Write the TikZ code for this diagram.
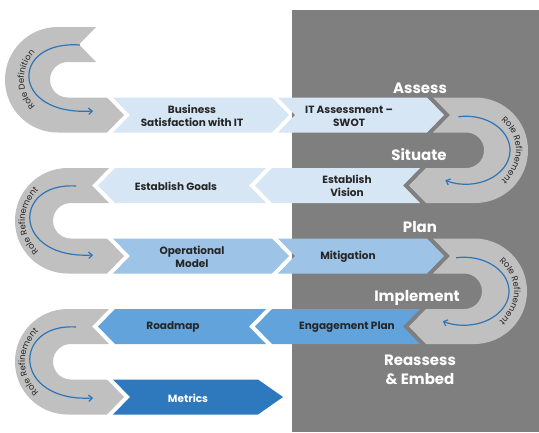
\documentclass[tikz,border=0pt]{standalone}
\usepackage{fontspec}
\setmainfont{Poppins}
\usetikzlibrary{arrows.meta,decorations.text}

\definecolor{bgdark}{HTML}{7F7F7F}
\definecolor{loopgray}{HTML}{C0C0C0}
\definecolor{paleblue}{HTML}{D6E6F5}
\definecolor{lightblue}{HTML}{9DC3E6}
\definecolor{midblue}{HTML}{62A3DC}
\definecolor{deepblue}{HTML}{2E78BD}
\definecolor{arrowblue}{HTML}{2E75B6}
\definecolor{labeltext}{HTML}{262626}

\newcommand{\rolefont}{\fontsize{8.5}{10}\selectfont}

% right-pointing chevron: left x, shoulder x, top y, tip depth, fill
\newcommand{\chevR}[5]{%
  \fill[#5] (#1,#3) -- (#2,#3) -- ({#2+#4},{#3+17.5}) -- (#2,{#3+35})
    -- (#1,{#3+35}) -- ({#1+17},{#3+17.5}) -- cycle;}
% left-pointing chevron: right x, shoulder x, top y, fill
\newcommand{\chevL}[4]{%
  \fill[#4] (#1,#3) -- (#2,#3) -- ({#2-17},{#3+17.5}) -- (#2,{#3+35})
    -- (#1,{#3+35}) -- ({#1-17},{#3+17.5}) -- cycle;}
% C-shaped turn (opens right): outer cx, inner cx, upper arm top, lower arm top,
% notch corner x of upper arm, tip shoulder x of lower arm
\newcommand{\cturn}[6]{%
  \fill[loopgray] (#5,#3) -- (#1,#3)
    arc[start angle=-90, end angle=-270, radius={(#4+35-#3)/2}]
    -- (#6,{#4+35}) -- ({#6+17},{#4+17.5}) -- (#6,#4) -- (#2,#4)
    arc[start angle=90, end angle=270, radius={(#4-#3-35)/2}]
    -- (#5,{#3+35}) -- ({#5-17},{#3+17.5}) -- cycle;}
% U-shaped turn (opens left)
\newcommand{\uturn}[6]{%
  \fill[loopgray] (#5,#3) -- (#1,#3)
    arc[start angle=-90, end angle=90, radius={(#4+35-#3)/2}]
    -- (#6,{#4+35}) -- ({#6-17},{#4+17.5}) -- (#6,#4) -- (#2,#4)
    arc[start angle=90, end angle=-90, radius={(#4-#3-35)/2}]
    -- (#5,{#3+35}) -- ({#5+17},{#3+17.5}) -- cycle;}

\begin{document}
\begin{tikzpicture}[x=1pt,y=-1pt,
  lbl/.style={font=\bfseries\fontsize{10.5}{13}\selectfont, text=labeltext, align=center, inner sep=0pt},
  heading/.style={font=\bfseries\fontsize{15}{19}\selectfont, text=white, align=center, inner sep=0pt},
  roleArrow/.style={draw=arrowblue, line width=1.2pt, -{Straight Barb[length=3.5pt,width=6.5pt]}},
  roletext/.style={decorate, decoration={text along path, text align=center,
      text color=labeltext, text={|\rolefont|#1}}}]

\fill[white] (0,0) rectangle (539,432);
\useasboundingbox (0,0) rectangle (539,432);

% shaded phase panel
\fill[bgdark] (292,10) rectangle (539,432);

% turns
\cturn{57.75}{67.75}{27}{97.5}{96}{107}
\cturn{67.75}{70.75}{168}{238.5}{109}{107}
\cturn{67.75}{70.75}{309}{379.5}{109}{107}
\uturn{475.25}{466.25}{97.5}{168}{433}{426}
\uturn{474.25}{464.25}{238.5}{309}{433}{426}

% chevrons
\chevR{113}{272}{97.5}{17}{paleblue}
\chevR{278}{427}{97.5}{17}{paleblue}
\chevL{420}{272}{168}{paleblue}
\chevL{266}{115}{168}{paleblue}
\chevR{113}{272}{238.5}{17}{lightblue}
\chevR{278}{427}{238.5}{17}{lightblue}
\chevL{420}{272}{309}{midblue}
\chevL{266}{115}{309}{midblue}
\chevR{113}{258}{379.5}{25}{deepblue}

% step labels
\node[lbl] (bizsat) at (192,116) {Business\\Satisfaction with IT};
\node[lbl] (itswot) at (349,116) {IT Assessment –\\SWOT};
\node[lbl] (vision) at (347,186) {Establish\\Vision};
\node[lbl] (goals) at (176,186) {Establish Goals};
\node[lbl] (opmodel) at (192,257) {Operational\\Model};
\node[lbl] (mitig) at (348,257) {Mitigation};
\node[lbl] (engage) at (347,327) {Engagement Plan};
\node[lbl] (roadmap) at (173,327) {Roadmap};
\node[lbl, text=white] (metrics) at (188,398) {Metrics};

% phase headings
\node[heading] (assess) at (420,88) {Assess};
\node[heading] (situate) at (419,155) {Situate};
\node[heading] (plan) at (420,227) {Plan};
\node[heading] (implement) at (417,298) {Implement};
\node[heading] (reassess) at (420,370) {Reassess\\\& Embed};

% loop arrows
\coordinate (c1s) at (80,45);   \coordinate (c1e) at (93,111);
\coordinate (c2s) at (76,186);  \coordinate (c2e) at (93,255);
\coordinate (c3s) at (76,327);  \coordinate (c3e) at (93,398);
\draw[roleArrow] (c1s) .. controls (10,40) and (10,116) .. (c1e);
\draw[roleArrow] (c2s) .. controls (12,182) and (12,259) .. (c2e);
\draw[roleArrow] (c3s) .. controls (12,323) and (12,402) .. (c3e);

\coordinate (u1c) at (466,150.25);
\coordinate (u2c) at (464,291.25);
\draw[roleArrow] (u1c) ++(-100:44 and 34) arc[start angle=-100, end angle=118, x radius=44, y radius=34];
\draw[roleArrow] (u2c) ++(-100:45 and 34) arc[start angle=-100, end angle=118, x radius=45, y radius=34];

% curved captions
\coordinate (c1t) at (66,79.75);
\coordinate (c2t) at (69,221);
\coordinate (c3t) at (69,362);
\path[roletext={Role Definition}] (c1t) ++(115:42 and 40) arc[start angle=115, end angle=245, x radius=42, y radius=40];
\path[roletext={Role Refinement}] (c2t) ++(115:44 and 42) arc[start angle=115, end angle=245, x radius=44, y radius=42];
\path[roletext={Role Refinement}] (c3t) ++(115:44 and 42) arc[start angle=115, end angle=245, x radius=44, y radius=42];
\path[roletext={Role Refinement}] (u1c) ++(-65:50 and 42) arc[start angle=-65, end angle=65, x radius=50, y radius=42];
\path[roletext={Role Refinement}] (u2c) ++(-65:50 and 42) arc[start angle=-65, end angle=65, x radius=50, y radius=42];

\end{tikzpicture}
\end{document}
